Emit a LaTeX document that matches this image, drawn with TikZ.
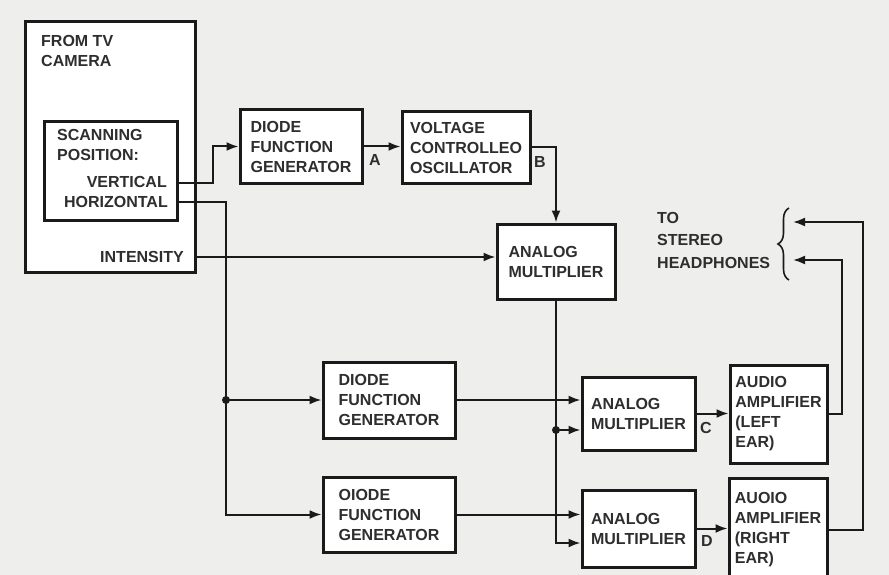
\documentclass[tikz,border=0pt]{standalone}
\usepackage{fontspec}
\setmainfont{Liberation Sans}
\usetikzlibrary{arrows.meta,decorations.pathreplacing}
\definecolor{paper}{HTML}{EEEEEC}
\definecolor{ink}{HTML}{1A1A1A}
\definecolor{txt}{HTML}{2E2E2E}
\begin{document}
\begin{tikzpicture}[x=1pt,y=-1pt,
  txtfont/.style={font=\bfseries\fontsize{16}{20}\selectfont},
  box/.style={draw=ink,line width=3pt,fill=white,align=left,text=txt,txtfont,inner sep=0pt},
  lbl/.style={text=txt,txtfont,inner sep=0pt,align=left},
  arr/.style={draw=ink,line width=2pt,-{Latex[length=12pt,width=9pt]}},
  dot/.style={circle,fill=ink,inner sep=0pt,minimum size=8pt}]
\clip (0,0) rectangle (889,575);
\fill[paper] (0,0) rectangle (889,575);

% boxes
\node[box,minimum width=170pt,minimum height=250pt] (cam) at (110,147) {};
\node[box,minimum width=133pt,minimum height=98pt] (scan) at (110.5,171) {};
\node[box,minimum width=122pt,minimum height=73pt] (dfg1) at (301,146.5) {DIODE\\FUNCTION\\GENERATOR};
\node[box,minimum width=128pt,minimum height=71pt] (vco) at (466,147.5) {VOLTAGE\\CONTROLLEO\\OSCILLATOR};
\node[box,minimum width=118pt,minimum height=75pt] (amTop) at (556,261.5) {ANALOG\\MULTIPLIER};
\node[box,minimum width=132pt,minimum height=76pt] (dfg2) at (389,400) {DIODE\\FUNCTION\\GENERATOR};
\node[box,minimum width=132pt,minimum height=75pt] (dfg3) at (389,514.5) {OIODE\\FUNCTION\\GENERATOR};
\node[box,minimum width=113pt,minimum height=73pt] (am2) at (638.5,413.5) {ANALOG\\MULTIPLIER};
\node[box,minimum width=113pt,minimum height=77pt] (am3) at (638.5,528.5) {ANALOG\\MULTIPLIER};
\node[box,minimum width=97pt,minimum height=98pt] (aal) at (778.5,414) {AUDIO\\AMPLIFIER\\(LEFT\\EAR)};
\node[box,minimum width=98pt,minimum height=104pt] (aar) at (778,530) {AUOIO\\AMPLIFIER\\(RIGHT\\EAR)};

% texts in camera box
\node[lbl,anchor=west] (camt) at (41,50.5) {FROM TV\\CAMERA};
\node[lbl,anchor=west] (scant) at (57,145) {SCANNING\\POSITION:};
\node[lbl,anchor=east] (vertt) at (167,182) {VERTICAL};
\node[lbl,anchor=east] (horzt) at (168,202) {HORIZONTAL};
\node[lbl,anchor=east] (intt) at (184,257) {INTENSITY};

% headphones
\node[lbl,anchor=west,font=\bfseries\fontsize{16}{22.5}\selectfont] (hpt) at (657,240) {TO\\STEREO\\HEADPHONES};
\draw[ink,line width=1.6pt,decorate,decoration={brace,amplitude=11pt}] (789,280) -- (789,208);

% signal labels
\node[lbl] (la) at (375,160) {A};
\node[lbl] (lb) at (540,162) {B};
\node[lbl] (lc) at (706,428) {C};
\node[lbl] (ld) at (707,541) {D};

% ports
\coordinate (vert) at (177,183);
\coordinate (horz) at (177,202);
\coordinate (inten) at (195,257);
\coordinate (hsplit) at (226,400);
\coordinate (msplit) at (556,430);
\coordinate (hpL) at (793,260);
\coordinate (hpR) at (793,222);

% connectors
\draw[arr] (vert) -- (213,183) |- (dfg1.west);
\draw[arr] (dfg1.east) -- (dfg1.east -| vco.west);
\draw[arr] (vco.east) -| (amTop.north);
\draw[arr] (inten) -- (inten -| amTop.west);
\draw[arr] (horz) -| (hsplit) |- (dfg3.west);
\draw[arr] (hsplit) -- (hsplit -| dfg2.west);
\draw[arr] (dfg2.east) -- (dfg2.east -| am2.west);
\draw[arr] (dfg3.east) -- (dfg3.east -| am3.west);
\draw[arr] (amTop.south) |- ([yshift=-14.5pt]am3.west);
\draw[arr] (msplit) -- (msplit -| am2.west);
\draw[arr] (am2.east) -- (am2.east -| aal.west);
\draw[arr] (am3.east) -- (am3.east -| aar.west);
\draw[arr] (aal.east) -| ([xshift=49pt]hpL) -- (hpL);
\draw[arr] (aar.east) -| ([xshift=70pt]hpR) -- (hpR);
\node[dot] (d1) at (hsplit) {};
\node[dot] (d2) at (msplit) {};
\end{tikzpicture}
\end{document}
